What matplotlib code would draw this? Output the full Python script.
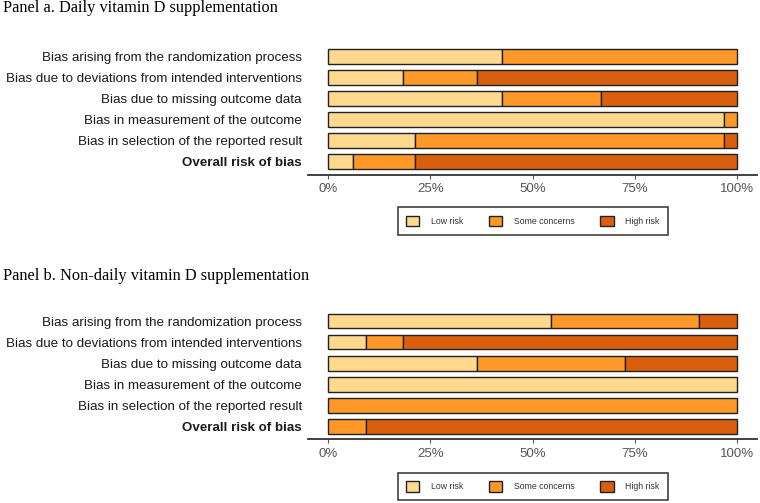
import matplotlib.pyplot as plt
import matplotlib.patches as mpatches
import numpy as np

domains = [
    'Bias arising from the randomization process',
    'Bias due to deviations from intended interventions',
    'Bias due to missing outcome data',
    'Bias in measurement of the outcome',
    'Bias in selection of the reported result',
    'Overall risk of bias',
]
judgements = ['Low risk', 'Some concerns', 'High risk']
colours = ['#fed98e', '#fe9929', '#d95f0e']

# number of studies per judgement (daily: 33 trials, non-daily: 11 trials)
daily_low = [14, 6, 14, 32, 7, 2]
daily_some = [19, 6, 8, 1, 25, 5]
daily_high = [0, 21, 11, 0, 1, 26]

nondaily_low = [6, 1, 4, 11, 0, 0]
nondaily_some = [4, 1, 4, 0, 11, 1]
nondaily_high = [1, 9, 3, 0, 0, 10]

plt.rcParams['font.family'] = ['Liberation Sans', 'DejaVu Sans']

W, H = 760, 503
fig = plt.figure(figsize=(W / 100, H / 100), dpi=100)


def px_axes(x0, x1, y_top, y_bot):
    return fig.add_axes([x0 / W, 1 - y_bot / H, (x1 - x0) / W, (y_bot - y_top) / H])


def panel(ax, low, some, high, legend_top):
    data = np.array([low, some, high], dtype=float)
    frac = data / data.sum(axis=0)
    y = np.arange(len(domains))
    left = np.zeros(len(domains))
    for k in range(3):
        for i in range(len(domains)):
            if frac[k, i] > 0:
                ax.barh(y[i], frac[k, i], left=left[i], height=0.71,
                        color=colours[k], edgecolor='#222222', linewidth=1.0)
        left += frac[k]
    ax.set_xlim(-0.05, 1.05)
    ax.set_ylim(5.63, -0.63)
    ax.set_yticks(y)
    ax.set_yticklabels(domains, fontsize=9.6, color='#1a1a1a')
    ax.get_yticklabels()[-1].set_fontweight('bold')
    ax.tick_params(axis='y', length=0, pad=4.5)
    ax.set_xticks([0, 0.25, 0.5, 0.75, 1])
    ax.set_xticklabels(['0%', '25%', '50%', '75%', '100%'], fontsize=9.5, color='#555555')
    ax.tick_params(axis='x', length=3, width=0.8, color='#555555', pad=3)
    for s in ['top', 'right', 'left']:
        ax.spines[s].set_visible(False)
    ax.spines['bottom'].set_color('#333333')
    ax.spines['bottom'].set_linewidth(1.3)

    handles = [mpatches.Patch(facecolor=c, edgecolor='#222222', linewidth=1.0, label=l)
               for c, l in zip(colours, judgements)]
    leg = fig.legend(handles=handles, loc='center', ncol=3, mode='expand',
                     bbox_to_anchor=(398 / W, 1 - (legend_top + 30) / H, 270 / W, 30 / H),
                     borderaxespad=0, fontsize=6.3, frameon=True, fancybox=False,
                     handlelength=1.5, handleheight=1.5, handletextpad=1.35,
                     columnspacing=2.2, borderpad=0.95, labelcolor='#333333')
    leg.get_frame().set_edgecolor('#111111')
    leg.get_frame().set_linewidth(1.2)


ax_a = px_axes(308, 757, 43.5, 175)
panel(ax_a, daily_low, daily_some, daily_high, 206)

ax_b = px_axes(308, 757, 307.8, 439.3)
panel(ax_b, nondaily_low, nondaily_some, nondaily_high, 471.5)

fig.text(3 / W, 1 - 8.5 / H, 'Panel a. Daily vitamin D supplementation',
         family='Liberation Serif', fontsize=11.8, va='center', ha='left')
fig.text(3 / W, 1 - 276 / H, 'Panel b. Non-daily vitamin D supplementation',
         family='Liberation Serif', fontsize=11.8, va='center', ha='left')

fig.savefig('out.png', dpi=100)
